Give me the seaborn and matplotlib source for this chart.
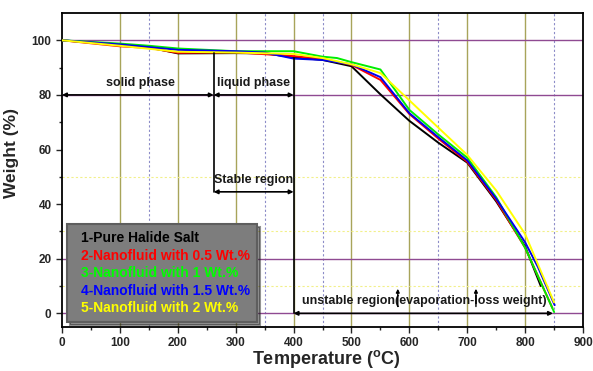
import numpy as np
import pandas as pd
import matplotlib
matplotlib.use("Agg")
import matplotlib.pyplot as plt
from matplotlib.lines import Line2D
import seaborn as sns

# TGA curves: temperature (°C) and remaining weight (%)
series_names = [
    "1-Pure Halide Salt",
    "2-Nanofluid with 0.5 Wt.%",
    "3-Nanofluid with 1 Wt.%",
    "4-Nanofluid with 1.5 Wt.%",
    "5-Nanofluid with 2 Wt.%",
]
series_colors = ["#000000", "#ff0000", "#00ee00", "#0000ee", "#ffff00"]
legend_text_colors = ["#000000", "#ff0000", "#00ff00", "#0000ff", "#ffff00"]

temp_pure = [0, 100, 150, 200, 300, 350, 400, 450, 500, 550, 600, 650, 700, 750, 800, 827]
wt_pure = [100, 98.2, 97.4, 95.2, 95.3, 95.2, 93.8, 92.8, 90.5, 80.2, 70.5, 62.5, 55.2, 41, 24.5, 10]

temp_05 = [0, 100, 150, 200, 300, 400, 450, 500, 550, 600, 650, 700, 750, 800, 847]
wt_05 = [100, 97.8, 97.2, 95.4, 95.6, 94.2, 93.2, 91.0, 85.5, 73.0, 64.0, 55.5, 41.5, 24.0, 2.0]

temp_1 = [0, 100, 150, 200, 300, 400, 450, 475, 500, 550, 600, 650, 700, 750, 800, 850]
wt_1 = [100, 98.8, 98.0, 97.0, 96.0, 96.0, 94.0, 93.5, 92.0, 89.3, 74.5, 65.5, 57.0, 42.5, 24.0, 0.5]

temp_15 = [0, 100, 200, 300, 350, 400, 450, 500, 550, 600, 650, 700, 750, 800, 822, 851]
wt_15 = [100, 98.5, 96.5, 96.0, 95.5, 93.3, 92.8, 91.2, 86.5, 73.3, 64.5, 56.0, 42.0, 26.0, 17.0, 3.0]

temp_2 = [0, 100, 200, 300, 400, 450, 500, 550, 600, 650, 700, 750, 800, 850]
wt_2 = [100, 98.0, 95.8, 95.5, 95.0, 93.5, 91.2, 88.0, 78.0, 68.0, 58.0, 45.0, 29.0, 4.0]

all_temps = [temp_pure, temp_05, temp_1, temp_15, temp_2]
all_wts = [wt_pure, wt_05, wt_1, wt_15, wt_2]

frames = []
for name, t, w in zip(series_names, all_temps, all_wts):
    frames.append(pd.DataFrame({"Temperature": t, "Weight": w, "Sample": name}))
df = pd.concat(frames, ignore_index=True)

sns.set_style("white")
plt.rcParams["font.family"] = ["Liberation Sans", "DejaVu Sans"]
plt.rcParams["font.weight"] = "bold"

fig = plt.figure(figsize=(5.93, 3.71), dpi=100)
ax = fig.add_axes([0.1046, 0.1186, 0.8786, 0.8464])

# background grid
for x in [100, 200, 300, 400, 500, 600, 700, 800]:
    ax.axvline(x, color="#a8a45a", lw=1.0, zorder=0)
for x in [150, 350, 450, 650, 850]:
    ax.axvline(x, color="#8c8cc8", lw=0.8, ls=(0, (2, 2)), zorder=0)
for y in [0, 20, 80, 100]:
    ax.axhline(y, color="#8f4a92", lw=1.0, zorder=0)
for y in [10, 30, 50]:
    ax.axhline(y, color="#f2f08a", lw=0.8, ls=(0, (2, 2)), zorder=0)

sns.lineplot(data=df, x="Temperature", y="Weight", hue="Sample",
             hue_order=series_names, palette=series_colors,
             estimator=None, sort=False, lw=1.4, ax=ax, legend=False, zorder=3)

ax.set_xlim(0, 900)
ax.set_ylim(-5, 110)
ax.set_xticks(np.arange(0, 901, 100))
ax.set_xticks(np.arange(50, 900, 100), minor=True)
ax.set_yticks(np.arange(0, 101, 20))
ax.set_yticks(np.arange(10, 110, 20), minor=True)
ax.tick_params(axis="both", which="major", direction="out", length=4, width=1.0,
               labelsize=8.5, bottom=True, left=True)
ax.tick_params(axis="both", which="minor", direction="out", length=2.5, width=1.0,
               bottom=True, left=True)
for lab in ax.get_xticklabels() + ax.get_yticklabels():
    lab.set_fontweight("bold")
for sp in ax.spines.values():
    sp.set_color("black")
    sp.set_linewidth(1.3)

ax.set_xlabel("Temperature ($^{\\mathregular{o}}$C)", fontsize=13, fontweight="bold")
ax.set_ylabel("Weight (%)", fontsize=12.5, fontweight="bold")
ax.xaxis.set_label_coords(0.508, -0.068)
ax.yaxis.set_label_coords(-0.082, 0.555)

# region markers
arrow_kw = dict(arrowstyle="<|-|>", color="black", lw=1.2, mutation_scale=6, shrinkA=0, shrinkB=0)
ax.annotate("", xy=(0, 80), xytext=(262, 80), arrowprops=arrow_kw, zorder=4)
ax.annotate("", xy=(262, 80), xytext=(400, 80), arrowprops=arrow_kw, zorder=4)
ax.annotate("", xy=(262, 44.5), xytext=(400, 44.5), arrowprops=arrow_kw, zorder=4)
ax.annotate("", xy=(400, 0), xytext=(848, 0), arrowprops=arrow_kw, zorder=4)
ax.plot([262, 262], [95.2, 44.5], color="black", lw=1.2, zorder=4)
ax.plot([400, 400], [93.5, 0], color="black", lw=1.2, zorder=4)

text_kw = dict(fontsize=9, fontweight="bold", color="#1a1a1a", zorder=5)
ax.text(135, 84.5, "solid phase", ha="center", va="center", **text_kw)
ax.text(331, 84.5, "liquid phase", ha="center", va="center", **text_kw)
ax.text(331, 49, "Stable region", ha="center", va="center", **text_kw)
ax.text(625, 4.5, "unstable region(evaporation-loss weight)", ha="center", va="center", **text_kw)
up_kw = dict(arrowstyle="-|>", color="black", lw=1.0, mutation_scale=5, shrinkA=0, shrinkB=0)
for x in [580, 715]:
    ax.annotate("", xy=(x, 9), xytext=(x, 2.5), arrowprops=up_kw, zorder=5)

# legend with coloured text only
handles = [Line2D([], [], color=c, lw=0) for c in series_colors]
leg = ax.legend(handles, series_names, loc="lower left", bbox_to_anchor=(0.01, 0.016),
                handlelength=0.2, handletextpad=0.3, labelcolor=legend_text_colors,
                prop={"size": 10, "weight": "bold"}, frameon=True, fancybox=False,
                shadow=True, borderpad=0.5, labelspacing=0.25, borderaxespad=0)
leg.get_frame().set_facecolor("#7d7d7d")
leg.get_frame().set_edgecolor("#5e5e5e")
leg.get_frame().set_alpha(1)
leg.get_frame().set_linewidth(1.5)
leg.set_zorder(6)

fig.savefig("out.png", dpi=100)
